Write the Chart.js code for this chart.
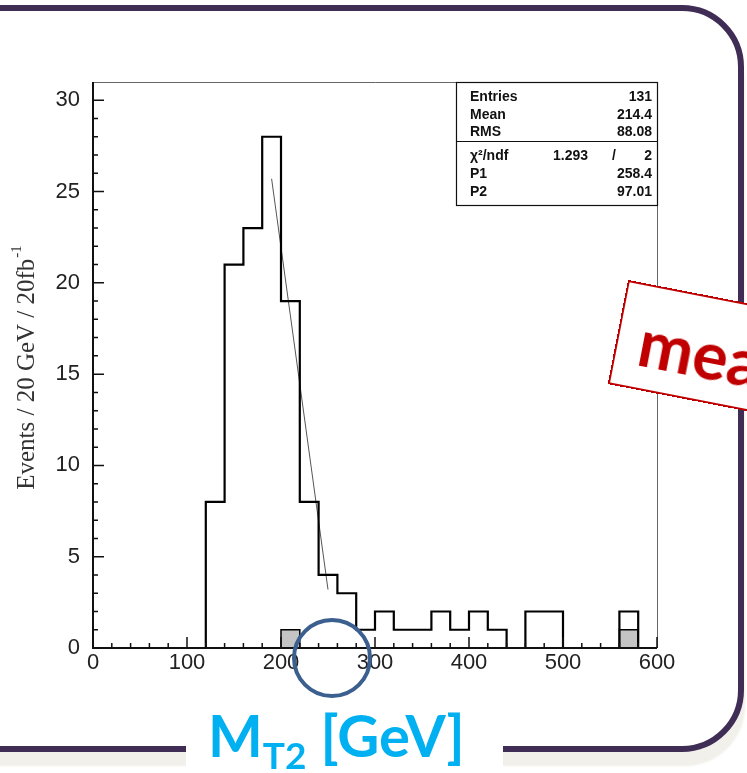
<!DOCTYPE html>
<html>
<head>
<meta charset="utf-8">
<script src="https://cdn.jsdelivr.net/npm/chart.js@4.4.0/dist/chart.umd.min.js"></script>
<style>
  html, body { margin: 0; padding: 0; background: #fff; }
  #wrap { position: relative; width: 747px; height: 773px; overflow: hidden; background: #fff; }
  #frame { position: absolute; left: -60px; top: 5px; width: 792px; height: 735px;
           border: 6px solid #3f2d56; border-radius: 62px; background: #fff;
           box-shadow: 3px 16px 2px -2px #f2f0eb; }
  #chart { position: absolute; left: 0; top: 0; }
  #circle { position: absolute; left: 292px; top: 618px; width: 72px; height: 72px;
            border: 4px solid #3b5f8e; border-radius: 50%; }
  #tag { position: absolute; left: 628px; top: 280px; width: 230px; height: 102px;
         border: 2px solid #c00000; background: #fff; transform-origin: 0 0; transform: rotate(11deg);
         font-family: Lato, "Open Sans", sans-serif; font-weight: bold; color: #c00000;
         font-size: 66px; line-height: 1; }
  #tag span { position: absolute; left: 21px; top: 22px; }
  #xlab { position: absolute; left: 186px; top: 722px; width: 317px; height: 51px; background: #fff; }
  #xlab div { position: absolute; left: 22px; top: -16px; white-space: nowrap;
              font-family: Lato, "Open Sans", sans-serif; font-weight: bold; color: #00b0f0; font-size: 58px; line-height: 1; }
  #xlab sub { font-size: 37px; vertical-align: -12px; line-height: 0; }
</style>
</head>
<body>
<div id="wrap">
  <div id="frame"></div>
  <canvas id="chart" width="747" height="773"></canvas>
  <div id="circle"></div>
  <div id="tag"><span>mea</span></div>
  <div id="xlab"><div>M<sub>T2</sub> [GeV]</div></div>
</div>
<script>
// histogram bins (GeV) and contents
const binEdges = [0, 20, 40, 60, 80, 100, 120, 140, 160, 180, 200, 220, 240, 260, 280,
                  300, 320, 340, 360, 380, 400, 420, 440, 460, 480, 500, 520, 540, 560, 580, 600];
const counts = [0, 0, 0, 0, 0, 0, 8, 21, 23, 28, 19, 8, 4, 3, 1,
                2, 1, 1, 2, 1, 2, 1, 0, 2, 2, 0, 0, 0, 2, 0];
const grayCounts = [0, 0, 0, 0, 0, 0, 0, 0, 0, 0, 1, 0, 0, 0, 0,
                    0, 0, 0, 0, 0, 0, 0, 0, 0, 0, 0, 0, 0, 1, 0];
// straight-line fit drawn over the falling edge
const fitLine = [{ x: 190, y: 25.7 }, { x: 250, y: 3.2 }];

const xTicks = [0, 100, 200, 300, 400, 500, 600];
const yTicks = [0, 5, 10, 15, 20, 25, 30];

const statsLabels = ['Entries', 'Mean', 'RMS'];
const statsValues = ['131', '214.4', '88.08'];
const fitLabels = ['P1', 'P2'];
const fitValues = ['258.4', '97.01'];
const chi2 = '1.293';
const ndf = '2';

function stepPoints(vals) {
    return binEdges.map((x, i) => ({ x: x, y: i < vals.length ? vals[i] : 0 }));
}

const rootAxes = {
    id: 'rootAxes',
    afterDatasetsDraw(chart) {
        const ctx = chart.ctx;
        const a = chart.chartArea;
        const xs = chart.scales.x, ys = chart.scales.y;
        ctx.save();

        // frame
        ctx.strokeStyle = '#666';
        ctx.lineWidth = 1;
        ctx.beginPath();
        ctx.moveTo(a.left, a.top + 0.5); ctx.lineTo(a.right + 0.5, a.top + 0.5); ctx.lineTo(a.right + 0.5, a.bottom);
        ctx.stroke();
        ctx.strokeStyle = '#111';
        ctx.lineWidth = 2;
        ctx.beginPath();
        ctx.moveTo(a.left, a.top); ctx.lineTo(a.left, a.bottom); ctx.lineTo(a.right, a.bottom);
        ctx.stroke();

        // ticks, drawn inward like ROOT
        ctx.lineWidth = 1.5;
        ctx.beginPath();
        for (let v = 0; v <= 600; v += 20) {
            const px = xs.getPixelForValue(v);
            const len = v % 100 === 0 ? 11 : 5;
            ctx.moveTo(px, a.bottom); ctx.lineTo(px, a.bottom - len);
        }
        for (let v = 0; v <= 30; v += 1) {
            const py = ys.getPixelForValue(v);
            const len = v % 5 === 0 ? 11 : 5;
            ctx.moveTo(a.left, py); ctx.lineTo(a.left + len, py);
        }
        ctx.stroke();

        // tick labels
        ctx.fillStyle = '#222';
        ctx.font = '22px "Liberation Sans", Arial, sans-serif';
        ctx.textAlign = 'center';
        ctx.textBaseline = 'middle';
        xTicks.forEach(v => ctx.fillText(String(v), xs.getPixelForValue(v), a.bottom + 15));
        ctx.textAlign = 'right';
        yTicks.forEach(v => ctx.fillText(String(v), a.left - 13, ys.getPixelForValue(v)));

        // y title
        ctx.save();
        ctx.translate(26, 368);
        ctx.rotate(-Math.PI / 2);
        ctx.fillStyle = '#333';
        const main = 'Events / 20 GeV / 20fb';
        ctx.font = '25px "Liberation Serif", "DejaVu Serif", serif';
        const wMain = ctx.measureText(main).width;
        ctx.font = '15px "Liberation Serif", "DejaVu Serif", serif';
        const wSup = ctx.measureText('-1').width;
        const x0 = -(wMain + wSup) / 2;
        ctx.textAlign = 'left';
        ctx.textBaseline = 'alphabetic';
        ctx.font = '25px "Liberation Serif", "DejaVu Serif", serif';
        ctx.fillText(main, x0, 8);
        ctx.font = '15px "Liberation Serif", "DejaVu Serif", serif';
        ctx.fillText('-1', x0 + wMain + 1, -5);
        ctx.restore();

        // stats box
        const bl = 456, br = a.right, bt = a.top, bb = 205;
        ctx.fillStyle = '#fff';
        ctx.fillRect(bl, bt, br - bl, bb - bt);
        ctx.strokeStyle = '#111';
        ctx.lineWidth = 1.2;
        ctx.strokeRect(bl + 0.5, bt + 0.5, br - bl, bb - bt);
        ctx.beginPath();
        ctx.moveTo(bl, 141.5); ctx.lineTo(br, 141.5);
        ctx.stroke();

        ctx.fillStyle = '#111';
        ctx.font = 'bold 14px "Liberation Sans", Arial, sans-serif';
        ctx.textBaseline = 'middle';
        const rowY = [97, 115, 132];
        statsLabels.forEach((t, i) => {
            ctx.textAlign = 'left'; ctx.fillText(t, 470, rowY[i]);
            ctx.textAlign = 'right'; ctx.fillText(statsValues[i], 652, rowY[i]);
        });
        const fitY = [174, 192];
        ctx.textAlign = 'left';
        ctx.fillText('\u03C7\u00B2/ndf', 470, 156);
        ctx.textAlign = 'right';
        ctx.fillText(chi2, 588, 156);
        ctx.textAlign = 'center';
        ctx.fillText('/', 614, 156);
        ctx.textAlign = 'right';
        ctx.fillText(ndf, 652, 156);
        fitLabels.forEach((t, i) => {
            ctx.textAlign = 'left'; ctx.fillText(t, 470, fitY[i]);
            ctx.textAlign = 'right'; ctx.fillText(fitValues[i], 652, fitY[i]);
        });

        ctx.restore();
    }
};

new Chart(document.getElementById('chart'), {
    type: 'line',
    data: {
        datasets: [
            {
                data: stepPoints(counts),
                stepped: 'before',
                borderColor: '#000',
                borderWidth: 2.2,
                pointRadius: 0,
                fill: false,
                order: 0
            },
            {
                data: fitLine,
                borderColor: '#555',
                borderWidth: 1,
                pointRadius: 0,
                fill: false,
                order: 1
            },
            {
                data: stepPoints(grayCounts),
                stepped: 'before',
                borderColor: '#000',
                borderWidth: 1.5,
                backgroundColor: '#c4c4c4',
                pointRadius: 0,
                fill: 'origin',
                order: 2
            }
        ]
    },
    options: {
        responsive: false,
        animation: false,
        layout: { padding: { left: 93, right: 90, top: 82, bottom: 125 } },
        plugins: { legend: { display: false }, tooltip: { enabled: false } },
        scales: {
            x: { type: 'linear', min: 0, max: 600, display: false },
            y: { type: 'linear', min: 0, max: 31, display: false }
        }
    },
    plugins: [rootAxes]
});
</script>
</body>
</html>
